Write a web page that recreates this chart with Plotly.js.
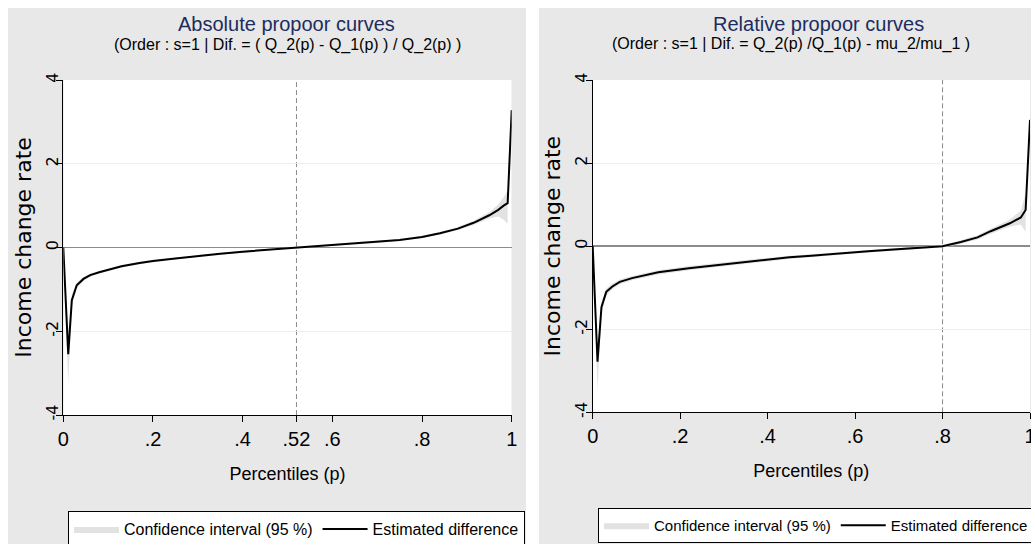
<!DOCTYPE html>
<html>
<head>
<meta charset="utf-8">
<script src="https://cdn.plot.ly/plotly-3.0.1.min.js"></script>
<style>
html,body{margin:0;padding:0;background:#fff;}
#chart{width:1031px;height:544px;}
</style>
</head>
<body>
<div id="chart"></div>
<script>
// ---------- DATA ----------
// Absolute propoor curve (left panel)
const absP   = [0, 0.011, 0.019, 0.03, 0.045, 0.06, 0.08, 0.10, 0.13, 0.17, 0.20, 0.25, 0.30, 0.35, 0.40, 0.45, 0.52, 0.55, 0.60, 0.65, 0.70, 0.75, 0.80, 0.84, 0.88, 0.915, 0.95, 0.97, 0.982, 0.991, 1.0];
const absEst = [0, -2.55, -1.26, -0.90, -0.75, -0.66, -0.59, -0.53, -0.45, -0.37, -0.32, -0.26, -0.20, -0.15, -0.10, -0.06, 0.00, 0.02, 0.05, 0.09, 0.13, 0.18, 0.25, 0.34, 0.45, 0.59, 0.77, 0.90, 1.00, 1.06, 3.28];
const absCiP  = [0, 0.011, 0.019, 0.03, 0.045, 0.06, 0.08, 0.10, 0.13, 0.17, 0.20, 0.25, 0.30, 0.35, 0.40, 0.45, 0.52, 0.55, 0.60, 0.65, 0.70, 0.75, 0.80, 0.84, 0.88, 0.915, 0.95, 0.97, 0.982, 0.991];
const absLow  = [0, -3.26, -1.40, -0.97, -0.80, -0.70, -0.62, -0.56, -0.48, -0.40, -0.35, -0.28, -0.22, -0.17, -0.12, -0.08, -0.02, 0.00, 0.03, 0.07, 0.11, 0.16, 0.22, 0.31, 0.41, 0.54, 0.69, 0.74, 0.66, 0.57];
const absHigh = [0, -2.00, -1.12, -0.83, -0.70, -0.62, -0.56, -0.50, -0.42, -0.34, -0.29, -0.24, -0.18, -0.13, -0.08, -0.04, 0.02, 0.04, 0.07, 0.11, 0.15, 0.20, 0.28, 0.37, 0.49, 0.64, 0.85, 1.02, 1.20, 1.37];

// Relative propoor curve (right panel)
const relP   = [0, 0.011, 0.02, 0.031, 0.045, 0.062, 0.09, 0.138, 0.15, 0.22, 0.30, 0.383, 0.45, 0.50, 0.573, 0.63, 0.688, 0.75, 0.80, 0.842, 0.88, 0.91, 0.954, 0.979, 0.99, 1.0];
const relEst = [0, -2.78, -1.47, -1.10, -0.97, -0.86, -0.77, -0.67, -0.63, -0.53, -0.44, -0.34, -0.27, -0.23, -0.16, -0.12, -0.08, -0.04, 0.00, 0.10, 0.21, 0.36, 0.55, 0.69, 0.87, 3.04];
const relCiP  = [0, 0.011, 0.02, 0.031, 0.045, 0.062, 0.09, 0.138, 0.15, 0.22, 0.30, 0.383, 0.45, 0.50, 0.573, 0.63, 0.688, 0.75, 0.80, 0.842, 0.88, 0.91, 0.954, 0.979, 0.99];
const relLow  = [0, -3.47, -1.62, -1.19, -1.04, -0.92, -0.82, -0.72, -0.68, -0.58, -0.48, -0.38, -0.31, -0.27, -0.20, -0.15, -0.11, -0.07, -0.03, 0.06, 0.16, 0.30, 0.47, 0.52, 0.34];
const relHigh = [0, -2.40, -1.34, -1.02, -0.90, -0.80, -0.72, -0.62, -0.58, -0.48, -0.40, -0.30, -0.23, -0.19, -0.12, -0.09, -0.05, -0.01, 0.03, 0.14, 0.26, 0.42, 0.64, 0.86, 1.28];

// Axis ticks
const absXTicks = [0, 0.2, 0.4, 0.52, 0.6, 0.8, 1];
const absXText  = ['0', '.2', '.4', '.52', '.6', '.8', '1'];
const relXTicks = [0, 0.2, 0.4, 0.6, 0.8, 1];
const relXText  = ['0', '.2', '.4', '.6', '.8', '1'];
const yTicks = [-4, -2, 0, 2, 4];
const yText  = ['-4', '-2', '0', '2', '4'];

// Reference lines
const absVLine = 0.52;
const relVLine = 0.8;

// Text
const titles = ['Absolute propoor curves', 'Relative propoor curves'];
const subtitles = ['(Order : s=1 | Dif. = ( Q_2(p) - Q_1(p) ) / Q_2(p) )', '(Order : s=1 | Dif. = Q_2(p) /Q_1(p) - mu_2/mu_1 )'];
const ciName = 'Confidence interval (95 %)';
const estName = 'Estimated difference';
const xTitle = 'Percentiles (p)';
const yTitle = 'Income change rate';

// ---------- STYLE ----------
const W = 1031, H = 544;
const SANS = "'Liberation Sans', Arial, sans-serif";
const WIDE = "'DejaVu Sans', 'Liberation Sans', sans-serif";
const PANEL = '#e8e8e8';
const CIFILL = '#e2e2e2';
const px = v => v / W;
const py = v => 1 - v / H;

function panelTraces(xa, ya, yLab, leg, p, est, ciP, lo, hi) {
  return [
    {x: ciP, y: lo, xaxis: xa, yaxis: ya, type: 'scatter', mode: 'lines',
     line: {width: 0, color: CIFILL}, showlegend: false, hoverinfo: 'skip', legend: leg},
    {x: ciP, y: hi, xaxis: xa, yaxis: ya, type: 'scatter', mode: 'lines',
     fill: 'tonexty', fillcolor: CIFILL, line: {width: 0, color: CIFILL},
     name: ciName, legend: leg},
    {x: p, y: est, xaxis: xa, yaxis: ya, type: 'scatter', mode: 'lines',
     line: {width: 2, color: '#000'}, name: estName, legend: leg},
    // empty helper trace so the tick-label axis is drawn
    {x: [], y: [], xaxis: xa, yaxis: yLab, type: 'scatter', mode: 'lines',
     showlegend: false, hoverinfo: 'skip'}
  ];
}

const data = [
  ...panelTraces('x', 'y', 'y3', 'legend', absP, absEst, absCiP, absLow, absHigh),
  ...panelTraces('x2', 'y2', 'y4', 'legend2', relP, relEst, relCiP, relLow, relHigh)
];

function xAxis(domain, anchor, vals, text) {
  return {
    domain: domain, anchor: anchor, range: [0, 1], fixedrange: true,
    tickmode: 'array', tickvals: vals, ticktext: text,
    ticks: 'outside', ticklen: 6, tickwidth: 1, tickcolor: '#000',
    showline: true, linecolor: '#000', linewidth: 1,
    showgrid: false, zeroline: false, ticklabeloverflow: 'allow',
    tickfont: {family: SANS, size: 20, color: '#000'},
    title: {text: xTitle, font: {family: SANS, size: 18, color: '#000'}, standoff: 18}
  };
}
function yAxis(domain, anchor) {
  return {
    domain: domain, anchor: anchor, range: [-4, 4], fixedrange: true,
    tickmode: 'array', tickvals: yTicks, ticktext: yText, showticklabels: false,
    ticks: 'outside', ticklen: 6, tickwidth: 1, tickcolor: '#000',
    showline: true, linecolor: '#000', linewidth: 1,
    showgrid: true, gridcolor: '#e6eff1', gridwidth: 1,
    zeroline: true, zerolinecolor: '#8c8c8c', zerolinewidth: 1.5,
    title: {text: yTitle, font: {family: WIDE, size: 22, color: '#000'}, standoff: 18}
  };
}
function yLabelAxis(over, pos) {
  return {
    overlaying: over, anchor: 'free', position: pos, side: 'left',
    range: [-4, 4], fixedrange: true,
    tickmode: 'array', tickvals: yTicks, ticktext: yText, tickangle: -90,
    ticks: '', showline: false, showgrid: false, zeroline: false,
    ticklabeloverflow: 'allow',
    tickfont: {family: WIDE, size: 16, color: '#000'}
  };
}

function legendCfg(x, y, size) {
  return {
    x: x, y: y, xanchor: 'left', yanchor: 'top', xref: 'paper', yref: 'paper',
    orientation: 'h', bgcolor: '#fff', bordercolor: '#000', borderwidth: 1,
    font: {family: SANS, size: size, color: '#000'}, itemwidth: 45,
    traceorder: 'normal'
  };
}

const layout = {
  width: W, height: H,
  margin: {l: 0, r: 0, t: 0, b: 0, pad: 0, autoexpand: false},
  paper_bgcolor: '#fff', plot_bgcolor: '#fff',
  showlegend: true,
  xaxis: xAxis([px(63.3), px(511.7)], 'y', absXTicks, absXText),
  yaxis: yAxis([py(415), py(80)], 'x'),
  yaxis3: yLabelAxis('y', px(61)),
  xaxis2: xAxis([px(592.7), px(1030)], 'y2', relXTicks, relXText),
  yaxis2: yAxis([py(412.3), py(80)], 'x2'),
  yaxis4: yLabelAxis('y2', px(590.5)),
  legend: legendCfg(px(68), py(511), 16),
  legend2: legendCfg(px(598), py(508), 15),
  shapes: [
    {type: 'rect', xref: 'paper', yref: 'paper', x0: px(8), x1: px(526), y0: 0, y1: py(8),
     fillcolor: PANEL, line: {width: 0}, layer: 'below'},
    {type: 'rect', xref: 'paper', yref: 'paper', x0: px(539), x1: 1, y0: 0, y1: py(8),
     fillcolor: PANEL, line: {width: 0}, layer: 'below'},
    {type: 'rect', xref: 'x', yref: 'y', x0: 0, x1: 1, y0: -4, y1: 4,
     fillcolor: '#fff', line: {width: 0}, layer: 'below'},
    {type: 'rect', xref: 'x2', yref: 'y2', x0: 0, x1: 1, y0: -4, y1: 4,
     fillcolor: '#fff', line: {width: 0}, layer: 'below'},
    {type: 'line', xref: 'x', yref: 'y', x0: absVLine, x1: absVLine, y0: -4, y1: 4,
     line: {color: '#8a8a8a', width: 1, dash: '5px,3px'}, layer: 'below'},
    {type: 'line', xref: 'x2', yref: 'y2', x0: relVLine, x1: relVLine, y0: -4, y1: 4,
     line: {color: '#8a8a8a', width: 1, dash: '5px,3px'}, layer: 'below'}
  ],
  annotations: [
    {text: titles[0], xref: 'paper', yref: 'paper', x: px(286), y: py(24), xanchor: 'center', yanchor: 'middle',
     showarrow: false, font: {family: SANS, size: 20, color: '#1c2d5e'}},
    {text: subtitles[0], xref: 'paper', yref: 'paper', x: px(287.5), y: py(45), xanchor: 'center', yanchor: 'middle',
     showarrow: false, font: {family: SANS, size: 16, color: '#000'}},
    {text: titles[1], xref: 'paper', yref: 'paper', x: px(818), y: py(24), xanchor: 'center', yanchor: 'middle',
     showarrow: false, font: {family: SANS, size: 20, color: '#1c2d5e'}},
    {text: subtitles[1], xref: 'paper', yref: 'paper', x: px(791), y: py(44), xanchor: 'center', yanchor: 'middle',
     showarrow: false, font: {family: SANS, size: 16, color: '#000'}}
  ]
};

Plotly.newPlot('chart', data, layout, {displayModeBar: false, staticPlot: true});
</script>
</body>
</html>
